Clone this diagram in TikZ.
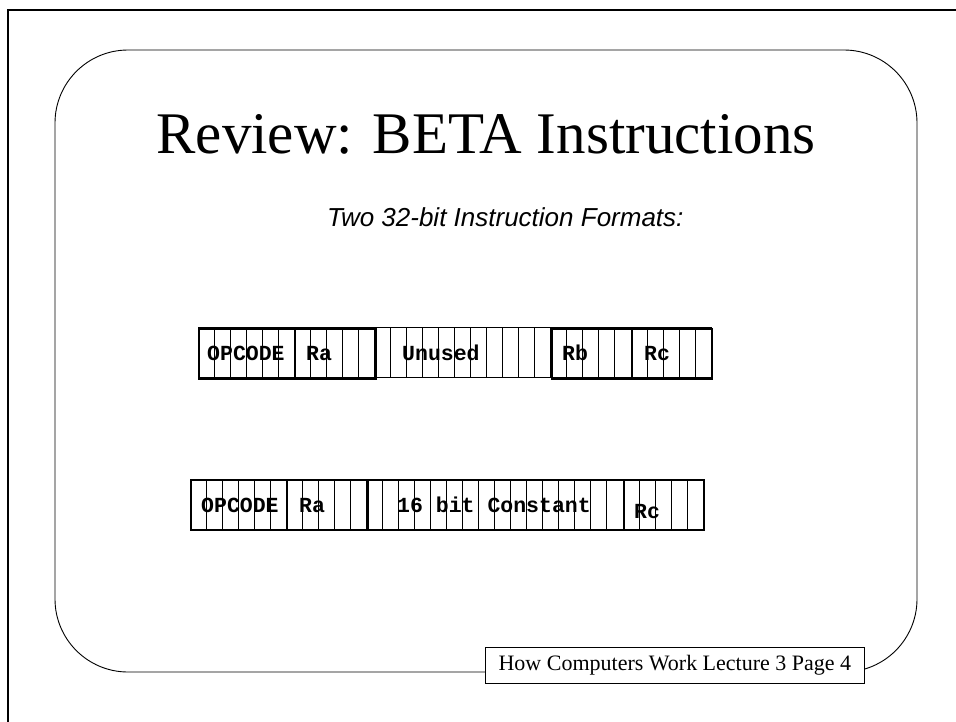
\documentclass[tikz,border=0pt]{standalone}
\usepackage{fontspec}
\setmainfont{Liberation Serif}
\setsansfont{Liberation Sans}
\setmonofont{Liberation Mono}
\begin{document}
\begin{tikzpicture}[x=1pt,y=-1pt,
	bits/.style={line width=0.6pt},
	field/.style={draw,line width=2.2pt,minimum height=50pt,inner sep=0pt,anchor=north west},
	tag/.style={font=\fontsize{21.5}{21.5}\selectfont\ttfamily\bfseries,anchor=base west,inner sep=0pt}]
	\useasboundingbox (0,0) rectangle (956,721);
	% slide frame and rounded panel
	\draw[line width=2pt] (8,730) -- (8,10) -- (970,10);
	\draw[line width=0.9pt,rounded corners=73pt] (55,50) rectangle (917,672);
	\node[font=\fontsize{59}{59}\selectfont,anchor=base] (title) at (486,153) {Review: BETA Instructions};
	\node[font=\fontsize{26}{26}\selectfont\sffamily\itshape,anchor=base east] (sub) at (687,226) {Two 32-bit Instruction Formats:};
	% first format, 32 bits from x=198
	\draw[bits] (198,327.5) rectangle (711,377.5);
	\foreach \i in {1,...,31}
		\draw[bits] (198+\i*16.03,327.5) -- ++(0,50);
	\node[field,minimum width=96.2pt] (opcA) at (198,327.5) {};
	\node[field,minimum width=80.2pt] (raA) at (294.2,327.5) {};
	\node[field,minimum width=80.2pt] (rbA) at (550.7,327.5) {};
	\node[field,minimum width=80.2pt] (rcA) at (630.8,327.5) {};
	\node[tag] (opcAt) at (207,360) {OPCODE};
	\node[tag] (raAt) at (306,360) {Ra};
	\node[tag] (unusedAt) at (402,360) {Unused};
	\node[tag] (rbAt) at (562,360) {Rb};
	\node[tag] (rcAt) at (644,360) {Rc};
	% second format, 32 bits from x=190
	\draw[bits] (190,479) rectangle (703,529);
	\foreach \i in {1,...,31}
		\draw[bits] (190+\i*16.03,479) -- ++(0,50);
	\node[field,minimum width=96.2pt] (opcB) at (190,479) {};
	\node[field,minimum width=80.2pt] (raB) at (286.2,479) {};
	\node[field,minimum width=256.5pt] (constB) at (366.4,479) {};
	\node[field,minimum width=80.1pt] (rcB) at (622.9,479) {};
	\node[tag] (opcBt) at (201,512) {OPCODE};
	\node[tag] (raBt) at (299,512) {Ra};
	\node[tag] (constBt) at (397,512) {16 bit Constant};
	\node[tag] (rcBt) at (634,518) {Rc};
	% footer
	\node[draw,fill=white,line width=0.8pt,anchor=north west,minimum width=379pt,minimum height=36pt,inner sep=0pt,font=\fontsize{22}{22}\selectfont] (foot) at (485,647) {How Computers Work Lecture 3 Page 4};
\end{tikzpicture}
\end{document}
